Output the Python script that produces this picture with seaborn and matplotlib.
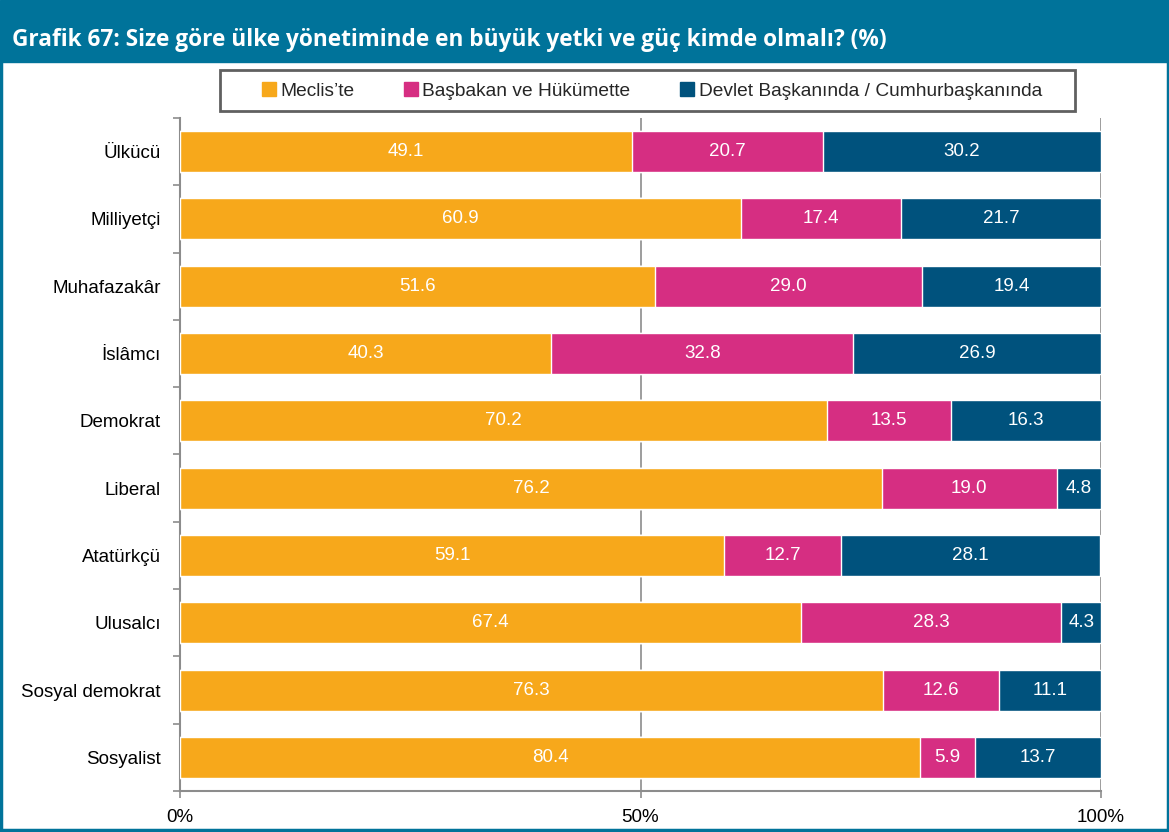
"""
Stacked horizontal bars: who should hold the most power (Grafik 67)
"""

import matplotlib.pyplot as plt
import numpy as np
import pandas as pd
import seaborn as sns
from matplotlib.patches import Patch, Rectangle

# Data
categories = [
    "Ülkücü", "Milliyetçi", "Muhafazakâr", "İslâmcı", "Demokrat",
    "Liberal", "Atatürkçü", "Ulusalcı", "Sosyal demokrat", "Sosyalist",
]
meclis = [49.1, 60.9, 51.6, 40.3, 70.2, 76.2, 59.1, 67.4, 76.3, 80.4]
basbakan = [20.7, 17.4, 29.0, 32.8, 13.5, 19.0, 12.7, 28.3, 12.6, 5.9]
devlet = [30.2, 21.7, 19.4, 26.9, 16.3, 4.8, 28.1, 4.3, 11.1, 13.7]
series_names = ["Meclis’te", "Başbakan ve Hükümette", "Devlet Başkanında / Cumhurbaşkanında"]
x_ticks = [0, 50, 100]
x_tick_labels = ["0%", "50%", "100%"]

colors = ["#F7A81B", "#D62E82", "#00527D"]
teal = "#00739A"
grey = "#8c8c8c"

df = pd.DataFrame({"category": categories, "m": meclis, "b": basbakan, "d": devlet})
df["mb"] = df["m"] + df["b"]
df["mbd"] = df["mb"] + df["d"]

sns.set_theme(style="white")
plt.rcParams["font.family"] = ["Liberation Sans", "DejaVu Sans"]

fig = plt.figure(figsize=(11.69, 8.32), dpi=100)
W, H = 1169, 832
ax = fig.add_axes([180 / W, 1 - 791 / H, (1101 - 180) / W, (791 - 118) / H])

# Header band + frame
fig.patches.append(Rectangle((0, 1 - 62 / H), 1, 62 / H, transform=fig.transFigure,
                             color=teal, zorder=0))
fig.patches.append(Rectangle((0.001, 0.002), 0.998, 0.996, transform=fig.transFigure,
                             fill=False, edgecolor=teal, linewidth=2.5, zorder=5))
fig.text(12 / W, 1 - 40 / H,
         "Grafik 67: Size göre ülke yönetiminde en büyük yetki ve güç kimde olmalı? (%)",
         color="white", fontsize=16.3, fontweight="bold", va="center", ha="left",
         family=["Open Sans", "DejaVu Sans"])

# Stack by layering cumulative totals
for col, c in zip(["mbd", "mb", "m"], colors[::-1]):
    sns.barplot(data=df, y="category", x=col, color=c, orient="h", width=0.61,
                saturation=1, ax=ax, zorder=3)

# Value labels
for i, row in df.iterrows():
    lefts = [0, row["m"], row["mb"]]
    for left, val in zip(lefts, [row["m"], row["b"], row["d"]]):
        ax.text(left + val / 2, i, f"{val:.1f}", ha="center", va="center",
                color="white", fontsize=13.5, zorder=4)

ax.set_xlim(0, 100)
ax.set_ylim(len(categories) - 0.5, -0.5)
ax.set_xticks(x_ticks)
ax.set_xticklabels(x_tick_labels, fontsize=13.5, color="black")
ax.set_xlabel("")
ax.set_ylabel("")
ax.tick_params(axis="y", length=0, labelsize=13.5, pad=14, labelcolor="black")
ax.set_yticks(np.arange(-0.5, len(categories), 1), minor=True)
ax.tick_params(axis="y", which="minor", length=5, color=grey, width=1.2, left=True)
ax.tick_params(axis="x", length=5, color=grey, width=1.2, bottom=True, pad=8)

ax.grid(False)
ax.axvline(50, color=grey, linewidth=1.2, zorder=1)
ax.axvline(100, color=grey, linewidth=1.2, zorder=1)
for side in ["top", "right"]:
    ax.spines[side].set_visible(False)
for side in ["left", "bottom"]:
    ax.spines[side].set_color(grey)
    ax.spines[side].set_linewidth(1.5)

# Legend box
fig.patches.append(Rectangle((220 / W, 1 - 111 / H), 855 / W, 41 / H,
                             transform=fig.transFigure, fill=False,
                             edgecolor="#606060", linewidth=2, zorder=5))
handles = [Patch(facecolor=c, edgecolor=c) for c in colors]
fig.legend(handles, series_names, ncol=3, loc="center",
           bbox_to_anchor=(652 / W, 1 - 91 / H), frameon=False, fontsize=13.8,
           handlelength=0.7, handleheight=0.7, handletextpad=0.25,
           borderaxespad=0, columnspacing=2.6)

fig.savefig("out.png", dpi=100)
